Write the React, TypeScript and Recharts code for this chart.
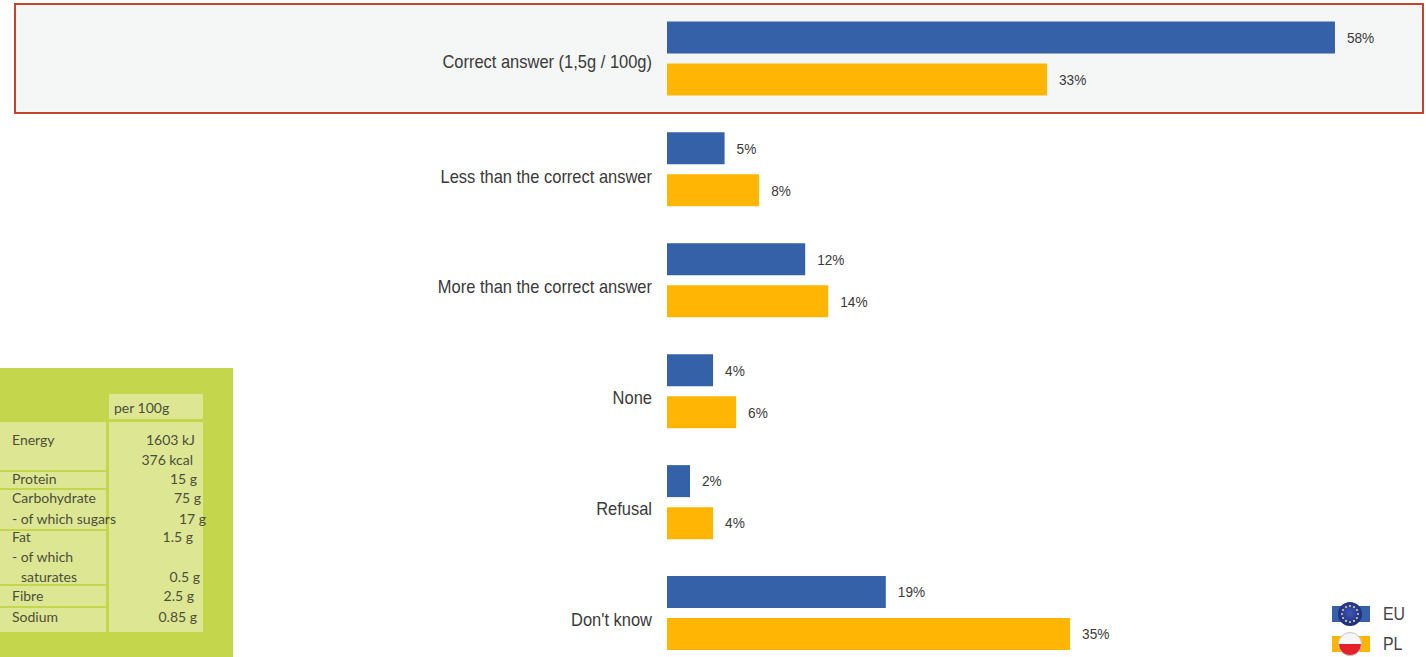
import { BarChart, Bar, XAxis, YAxis, LabelList, Legend } from "recharts";

const answers = [
  "Correct answer (1,5g / 100g)",
  "Less than the correct answer",
  "More than the correct answer",
  "None",
  "Refusal",
  "Don't know",
];
const euShare = [58, 5, 12, 4, 2, 19];
const plShare = [33, 8, 14, 6, 4, 35];
const seriesNames = ["EU", "PL"];

const rows = answers.map((answer, i) => ({ answer, EU: euShare[i], PL: plShare[i] }));

const BLUE = "#3561a9";
const AMBER = "#ffb503";
const LABEL_FONT = "'Liberation Sans', Arial, sans-serif";
const TEXT_COLOR = "#3a3a3a";

// nutrition panel: label rows on the left, amounts on the right
const panelLabels = [
  ["Energy", 12, 440],
  ["Protein", 12, 479],
  ["Carbohydrate", 12, 498],
  ["- of which sugars", 12, 519],
  ["Fat", 12, 537],
  ["- of which", 12, 557],
  ["saturates", 21, 577],
  ["Fibre", 12, 596],
  ["Sodium", 12, 617],
] as const;
const panelAmounts = [
  ["1603 kJ", 195, 440],
  ["376 kcal", 193, 460],
  ["15 g", 197, 479],
  ["75 g", 201, 498],
  ["17 g", 206, 519],
  ["1.5 g", 193, 537],
  ["0.5 g", 200, 577],
  ["2.5 g", 194, 596],
  ["0.85 g", 197, 617],
] as const;
const panelCells = [
  [422, 470],
  [472, 488],
  [490, 529],
  [531, 584],
  [586, 606],
  [608, 632],
] as const;

function NutritionPanel() {
  const text = { position: "absolute", fontFamily: "Lato, sans-serif", fontSize: 14, lineHeight: "20px", color: "#4c4e3a", whiteSpace: "nowrap" } as const;
  return (
    <div style={{ position: "absolute", left: 0, top: 368, width: 233, height: 289, background: "#c3d64c" }}>
      <div style={{ position: "absolute", left: 109, top: 26, width: 94, height: 25, background: "#dde793" }} />
      <div style={{ position: "absolute", left: 109, top: 54, width: 94, height: 210, background: "#dde793" }} />
      {panelCells.map(([top, bottom]) => (
        <div key={top} style={{ position: "absolute", left: 0, top: top - 368, width: 106, height: bottom - top, background: "#dde793" }} />
      ))}
      <div style={{ ...text, left: 114, top: 30 }}>per 100g</div>
      {panelLabels.map(([label, x, y]) => (
        <div key={label} style={{ ...text, left: x, top: y - 368 - 10 }}>{label}</div>
      ))}
      {panelAmounts.map(([amount, x, y]) => (
        <div key={amount} style={{ ...text, right: 233 - x, top: y - 368 - 10 }}>{amount}</div>
      ))}
    </div>
  );
}

function FlagIcon({ name, color }: { name: string; color: string }) {
  const eu = name === "EU";
  return (
    <svg width={40} height={28} style={{ display: "block" }}>
      <defs>
        <radialGradient id="euBall" cx="50%" cy="45%" r="55%">
          <stop offset="0%" stopColor="#3f56b8" />
          <stop offset="100%" stopColor="#1c2a78" />
        </radialGradient>
        <clipPath id="plBall">
          <circle cx={19} cy={14} r={11.5} />
        </clipPath>
      </defs>
      <rect x={1} y={6} width={38} height={16} fill={color} />
      {eu ? (
        <g>
          <circle cx={19} cy={14} r={12} fill="url(#euBall)" />
          {Array.from({ length: 12 }, (_, i) => (
            <circle
              key={i}
              cx={19 + 8 * Math.cos((i * Math.PI) / 6)}
              cy={14 + 8 * Math.sin((i * Math.PI) / 6)}
              r={1.1}
              fill="#cfcf8a"
            />
          ))}
        </g>
      ) : (
        <g>
          <g clipPath="url(#plBall)">
            <rect x={6} y={1} width={26} height={13} fill="#f6f6f6" />
            <rect x={6} y={14} width={26} height={14} fill="#e3202c" />
          </g>
          <circle cx={19} cy={14} r={11.5} fill="none" stroke="#c9c4bc" strokeWidth={1} />
        </g>
      )}
    </svg>
  );
}

function FlagLegend() {
  const colors = [BLUE, AMBER];
  return (
    <div>
      {seriesNames.map((name, i) => (
        <div key={name} style={{ display: "flex", alignItems: "center", height: 30 }}>
          <FlagIcon name={name} color={colors[i]} />
          <span style={{ marginLeft: 12, fontFamily: LABEL_FONT, fontSize: 18, color: "#444", display: "inline-block", transform: "scaleX(0.88)", transformOrigin: "left" }}>{name}</span>
        </div>
      ))}
    </div>
  );
}

// the answer labels are set in a tall, slightly condensed face
function AnswerTick({ x, y, payload, index }: any) {
  const dy = index === 0 ? 3 : 6.5;
  return (
    <g transform={`translate(${x},${y + dy}) scale(0.915,1)`}>
      <text textAnchor="end" dominantBaseline="central" fontFamily={LABEL_FONT} fontSize={18} fill={TEXT_COLOR}>
        {payload.value}
      </text>
    </g>
  );
}

function ShareLabel({ x, y, width, height, value }: any) {
  return (
    <g transform={`translate(${x + width + 12},${y + height / 2}) scale(0.88,1)`}>
      <text dominantBaseline="central" fontFamily={LABEL_FONT} fontSize={15.5} fill={TEXT_COLOR}>
        {value}%
      </text>
    </g>
  );
}

export default function App() {
  return (
    <div style={{ position: "absolute", left: 0, top: 0, width: 1426, height: 657, overflow: "hidden", background: "#fff" }}>
      {/* highlight frame behind the first answer */}
      <div style={{ position: "absolute", left: 14, top: 3, width: 1406, height: 107, background: "#f5f6f6", border: "2px solid #c4452c" }} />
      <NutritionPanel />
      <div style={{ position: "absolute", left: 0, top: 0 }}>
        <BarChart
          width={1426}
          height={669}
          data={rows}
          layout="vertical"
          barSize={32}
          barGap={10}
          margin={{ top: 3.4, right: 68, bottom: 0, left: 0 }}
        >
          <XAxis type="number" domain={[0, 60]} hide />
          <YAxis
            type="category"
            dataKey="answer"
            width={667}
            axisLine={false}
            tickLine={false}
            tickSize={0}
            tickMargin={15}
            interval={0}
            tick={<AnswerTick />}
          />
          {/* zero-height wrapper so the legend takes no room from the plot */}
          <Legend
            verticalAlign="bottom"
            content={() => <FlagLegend />}
            wrapperStyle={{ position: "absolute", left: 1331, top: 599, width: 90, height: 0, bottom: "auto" }}
          />
          <Bar dataKey="EU" fill={BLUE} isAnimationActive={false}>
            <LabelList dataKey="EU" content={<ShareLabel />} />
          </Bar>
          <Bar dataKey="PL" fill={AMBER} isAnimationActive={false}>
            <LabelList dataKey="PL" content={<ShareLabel />} />
          </Bar>
        </BarChart>
      </div>
    </div>
  );
}
